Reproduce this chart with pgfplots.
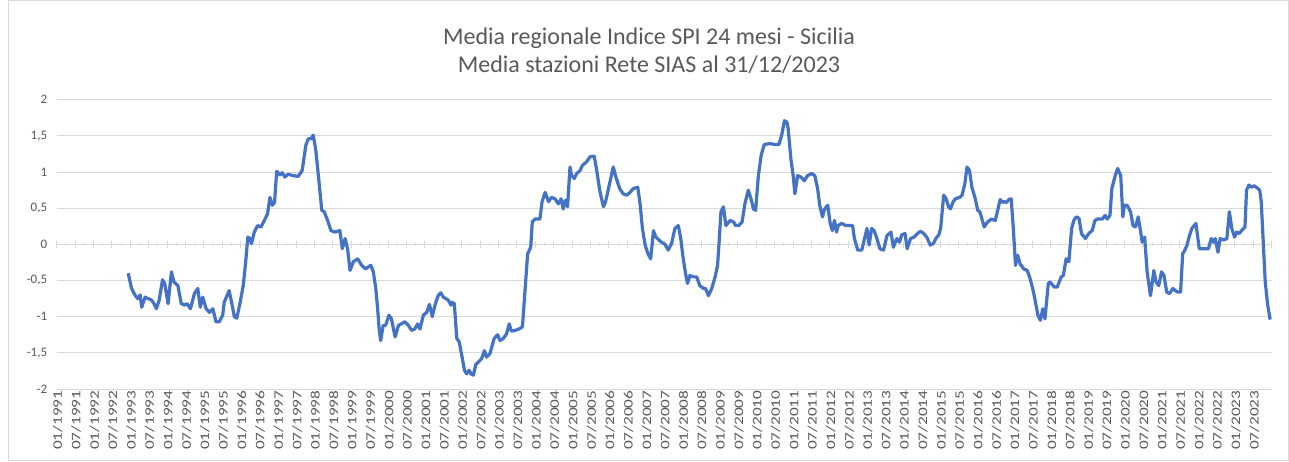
\documentclass[border=0pt]{standalone}
\usepackage{pgfplots}
\pgfplotsset{compat=1.18}
\usepackage{fontspec}
\setmainfont{Carlito}
\newfontfamily\xlab{Carlito}[FakeStretch=1.33]
\definecolor{spiblue}{HTML}{4472C4}
\definecolor{gridc}{HTML}{D9D9D9}
\definecolor{txt}{HTML}{595959}

\pgfplotstableread{
m v
22.8 -0.40
23.9 -0.61
25.0 -0.70
25.9 -0.75
26.7 -0.70
27.2 -0.87
28.3 -0.73
29.3 -0.75
30.4 -0.77
31.2 -0.82
32.0 -0.89
32.9 -0.77
34.0 -0.49
34.7 -0.54
35.8 -0.82
36.9 -0.38
37.7 -0.52
39.0 -0.57
40.1 -0.82
41.2 -0.84
42.0 -0.82
43.1 -0.89
44.4 -0.68
45.5 -0.61
46.3 -0.87
47.1 -0.73
48.2 -0.89
49.3 -0.94
50.4 -0.89
51.4 -1.07
52.5 -1.07
53.6 -0.98
54.1 -0.80
55.7 -0.64
56.5 -0.80
57.4 -1.00
58.2 -1.02
59.3 -0.80
60.3 -0.57
61.1 -0.24
61.8 0.10
62.5 0.08
63.0 0.01
63.9 0.17
65.0 0.26
66.1 0.24
67.4 0.35
68.2 0.42
69.0 0.65
69.8 0.54
70.5 0.58
71.2 1.01
72.3 0.96
73.0 0.99
73.9 0.93
74.9 0.97
76.6 0.95
78.2 0.94
79.5 1.02
80.7 1.37
81.5 1.46
82.4 1.46
83.1 1.51
83.9 1.32
84.8 0.95
85.9 0.47
86.7 0.45
87.8 0.33
88.9 0.19
90.2 0.17
91.8 0.19
92.6 -0.06
93.5 0.08
94.3 -0.06
95.1 -0.36
96.2 -0.24
97.6 -0.20
98.9 -0.29
100.2 -0.34
101.1 -0.31
101.9 -0.29
102.7 -0.38
103.5 -0.61
104.1 -0.89
104.6 -1.17
105.1 -1.33
105.9 -1.12
106.7 -1.12
107.8 -0.98
108.6 -1.03
109.8 -1.28
110.9 -1.12
111.8 -1.10
113.0 -1.07
114.1 -1.12
115.2 -1.19
116.2 -1.17
117.1 -1.10
117.9 -1.17
119.0 -0.98
120.1 -0.94
121.0 -0.83
121.9 -1.00
122.8 -0.84
123.8 -0.71
124.7 -0.67
125.5 -0.73
127.1 -0.77
128.0 -0.84
128.4 -0.80
129.1 -0.82
129.9 -1.30
130.7 -1.35
131.5 -1.53
132.4 -1.74
133.1 -1.79
133.9 -1.74
134.5 -1.79
135.3 -1.81
136.1 -1.66
136.9 -1.63
138.0 -1.58
138.9 -1.47
139.6 -1.56
140.7 -1.51
142.1 -1.30
143.2 -1.25
144.0 -1.33
145.1 -1.30
146.1 -1.24
147.0 -1.10
147.7 -1.20
148.9 -1.19
150.2 -1.17
151.3 -1.14
152.1 -0.66
153.0 -0.13
154.0 -0.04
154.5 0.31
155.4 0.35
157.0 0.35
157.7 0.59
158.7 0.72
159.8 0.59
160.8 0.65
161.9 0.63
163.0 0.56
163.9 0.63
164.6 0.49
165.3 0.61
166.0 0.52
166.8 1.07
167.3 0.95
168.2 0.91
169.0 0.98
170.1 1.02
170.8 1.09
172.2 1.14
173.3 1.21
174.7 1.22
175.4 1.05
176.6 0.72
177.7 0.52
178.4 0.59
179.8 0.86
180.9 1.07
181.9 0.91
183.0 0.77
184.1 0.70
185.3 0.68
186.4 0.72
187.4 0.77
188.9 0.79
189.7 0.54
190.4 0.22
191.3 -0.01
192.2 -0.13
193.1 -0.20
194.0 0.19
194.8 0.10
195.8 0.06
196.6 0.03
197.8 0.00
198.8 -0.08
199.9 0.01
201.0 0.22
202.1 0.26
202.9 0.08
203.7 -0.20
204.5 -0.41
205.1 -0.54
205.9 -0.43
207.0 -0.45
208.1 -0.45
209.1 -0.57
210.3 -0.61
211.0 -0.61
211.9 -0.71
213.0 -0.61
214.1 -0.45
214.9 -0.29
215.4 0.03
216.0 0.45
216.8 0.52
217.6 0.26
218.2 0.29
219.0 0.33
220.1 0.31
220.8 0.26
221.8 0.26
222.9 0.31
223.8 0.56
224.9 0.75
225.8 0.63
226.6 0.49
227.3 0.47
228.2 0.95
229.1 1.23
230.1 1.38
231.4 1.39
232.5 1.39
233.6 1.38
234.9 1.38
235.8 1.51
236.7 1.71
237.5 1.69
237.9 1.60
238.8 1.18
239.6 0.93
240.1 0.70
241.0 0.95
242.1 0.93
243.2 0.88
244.2 0.95
245.6 0.98
246.6 0.95
247.5 0.77
248.2 0.54
249.1 0.38
249.8 0.49
250.8 0.54
251.6 0.29
252.3 0.19
253.0 0.33
253.7 0.17
254.2 0.26
255.4 0.29
256.7 0.26
258.1 0.26
258.9 0.26
259.5 0.08
260.6 -0.08
261.9 -0.08
262.8 0.08
263.6 0.22
264.3 -0.01
265.1 0.22
265.9 0.19
266.7 0.10
267.8 -0.06
269.0 -0.08
270.1 0.12
271.4 0.17
272.2 -0.04
273.3 0.08
274.2 0.03
274.9 0.13
276.0 0.15
276.7 -0.06
277.8 0.08
278.9 0.10
280.3 0.16
281.1 0.18
282.1 0.15
283.2 0.09
284.2 -0.01
285.2 0.01
286.2 0.09
287.0 0.13
287.6 0.22
288.6 0.68
289.4 0.63
290.2 0.52
290.8 0.49
291.7 0.59
292.4 0.63
293.8 0.65
294.6 0.68
295.5 0.84
296.2 1.07
297.0 1.02
297.8 0.79
298.9 0.63
299.7 0.47
300.4 0.45
301.2 0.33
301.8 0.24
302.9 0.31
304.2 0.35
305.4 0.33
306.2 0.47
307.0 0.62
307.8 0.58
308.3 0.59
309.1 0.58
309.8 0.62
310.6 0.63
311.3 0.22
312.0 -0.29
312.7 -0.15
313.5 -0.27
314.7 -0.34
315.8 -0.36
316.6 -0.45
317.6 -0.61
318.3 -0.75
319.3 -0.98
320.1 -1.05
320.9 -0.89
321.6 -1.03
322.7 -0.54
323.3 -0.52
324.6 -0.59
325.6 -0.59
326.9 -0.45
327.6 -0.43
328.5 -0.20
329.4 -0.24
330.3 0.22
331.0 0.33
331.8 0.38
332.7 0.36
333.5 0.15
334.8 0.08
335.9 0.15
337.0 0.19
337.9 0.33
338.7 0.35
340.3 0.35
341.2 0.40
341.9 0.35
342.8 0.40
343.4 0.77
344.5 0.95
345.3 1.05
346.3 0.95
347.0 0.38
347.5 0.54
348.4 0.54
349.5 0.45
350.3 0.26
351.1 0.24
352.0 0.38
352.8 0.17
353.3 0.03
354.1 0.10
354.9 -0.38
356.0 -0.71
357.1 -0.36
357.8 -0.52
358.7 -0.57
359.6 -0.38
360.4 -0.43
361.3 -0.66
362.2 -0.68
363.3 -0.61
364.1 -0.64
364.9 -0.66
365.8 -0.66
366.5 -0.13
367.2 -0.08
367.9 -0.01
368.7 0.12
369.5 0.22
370.8 0.29
371.9 -0.06
373.8 -0.06
374.9 -0.06
375.8 0.08
376.5 0.03
377.1 0.08
378.0 -0.11
378.7 0.08
379.8 0.06
380.9 0.08
381.7 0.45
382.5 0.22
383.4 0.10
384.1 0.17
384.9 0.15
385.7 0.19
386.8 0.24
387.3 0.75
388.1 0.82
388.9 0.79
389.8 0.81
390.8 0.78
391.6 0.75
392.1 0.59
392.7 0.08
393.4 -0.52
394.2 -0.84
395.0 -1.04
}\spidata

\begin{document}
\begin{tikzpicture}[x=1pt,y=1pt]
\useasboundingbox (0,0) rectangle (1289,461);
\draw[gridc, line width=0.8pt] (8.5,0.5) rectangle (1288,460.5);

\node[font=\fontsize{24}{24}\selectfont, text=txt] at (649,423) {Media regionale Indice SPI 24 mesi - Sicilia};
\node[font=\fontsize{24}{24}\selectfont, text=txt] at (649,396) {Media stazioni Rete SIAS al 31/12/2023};

\begin{axis}[
  at={(56.7pt,72pt)}, anchor=south west,
  scale only axis, width=1215pt, height=289.3pt,
  xmin=-0.5, xmax=395.5, ymin=-2, ymax=2,
  axis line style={draw=none},
  tick style={draw=none},
  ytick={-2,-1.5,...,2},
  ymajorgrids, grid style={draw=gridc, line width=1pt},
  /pgf/number format/.cd, use comma, fixed, assume math mode=true,
  /pgfplots/.cd,
  yticklabel style={font=\fontsize{13}{13}\selectfont, text=txt, xshift=-6pt},
  xtick={-0.5,5.5,...,390},
  xticklabels={01/1991,07/1991,01/1992,07/1992,01/1993,07/1993,01/1994,07/1994,01/1995,07/1995,01/1996,07/1996,01/1997,07/1997,01/1998,07/1998,01/1999,07/1999,01/2000,07/2000,01/2001,07/2001,01/2002,07/2002,01/2003,07/2003,01/2004,07/2004,01/2005,07/2005,01/2006,07/2006,01/2007,07/2007,01/2008,07/2008,01/2009,07/2009,01/2010,07/2010,01/2011,07/2011,01/2012,07/2012,01/2013,07/2013,01/2014,07/2014,01/2015,07/2015,01/2016,07/2016,01/2017,07/2017,01/2018,07/2018,01/2019,07/2019,01/2020,07/2020,01/2021,07/2021,01/2022,07/2022,01/2023,07/2023},
  xticklabel style={rotate=90, anchor=east, font=\xlab\fontsize{13}{13}\selectfont, text=txt, yshift=-1pt, xshift=2pt},
]
\end{axis}

\begin{axis}[
  at={(56.7pt,72pt)}, anchor=south west,
  scale only axis, width=1215pt, height=289.3pt,
  xmin=-0.5, xmax=395.5, ymin=-2, ymax=2,
  axis x line=middle, axis y line=none,
  axis line style={-, draw=gridc, line width=1pt},
  xtick={-0.5,5.5,...,396}, minor x tick num=1,
  xticklabels={}, ytick=\empty,
  tick align=center, major tick length=7pt, minor tick length=3pt,
  tick style={draw=gridc, line width=1pt},
]
\addplot[color=spiblue, line width=3.2pt, line join=round] table[x=m, y=v] {\spidata};
\end{axis}
\end{tikzpicture}
\end{document}
